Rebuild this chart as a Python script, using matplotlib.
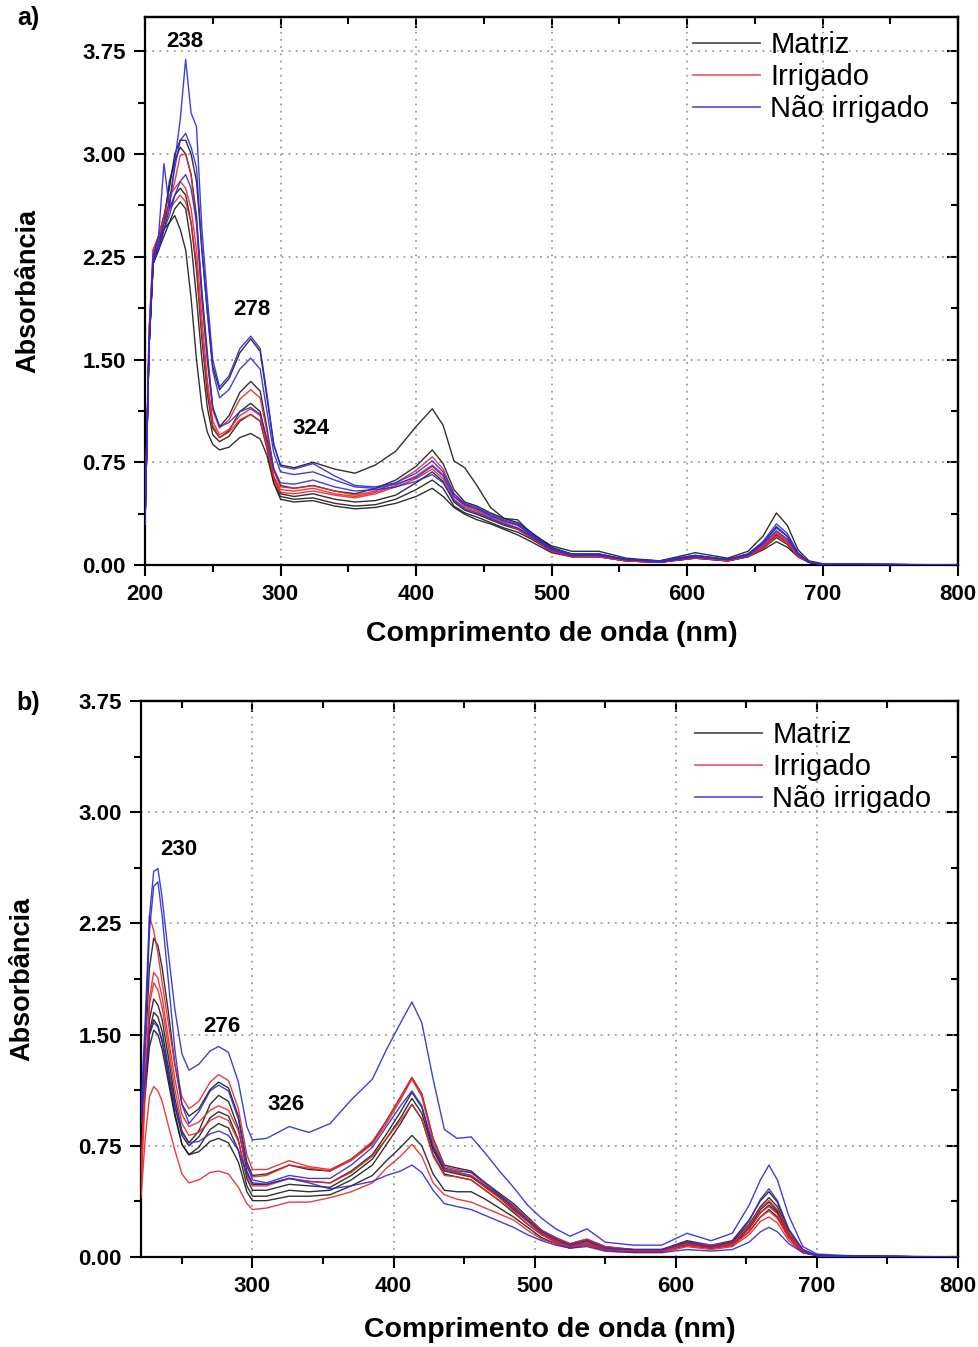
import matplotlib
matplotlib.use("Agg")
import matplotlib.pyplot as plt
from matplotlib.lines import Line2D
from matplotlib.ticker import MultipleLocator

plt.rcParams['font.family'] = ['Liberation Sans', 'DejaVu Sans']

# ---------------- panel a: wavelength grid (nm) and absorbance curves ----------------
wl_a = [200, 203, 206, 210, 214, 218, 222, 226, 230, 234, 238, 242, 246, 250, 255,
        262, 270, 278, 285, 290, 295, 300, 310, 324, 340, 355, 370, 385, 400, 412,
        420, 428, 436, 445, 455, 465, 475, 485, 500, 515, 535, 555, 580, 606, 630,
        645, 656, 666, 674, 682, 690, 700, 750, 800]

matriz_a = [
    [0.3, 1.6, 2.25, 2.4, 2.55, 2.75, 3.0, 3.1, 3.1, 3.0, 2.8, 2.3, 1.85, 1.45, 1.28,
     1.36, 1.55, 1.65, 1.56, 1.22, 0.88, 0.73, 0.71, 0.75, 0.70, 0.67, 0.73, 0.83, 1.01, 1.14,
     1.02, 0.76, 0.71, 0.58, 0.42, 0.34, 0.33, 0.23, 0.14, 0.10, 0.10, 0.05, 0.03, 0.09, 0.05,
     0.10, 0.21, 0.38, 0.29, 0.11, 0.03, 0.01, 0.005, 0.0],
    [0.3, 1.6, 2.2, 2.35, 2.5, 2.8, 2.95, 3.05, 3.0, 2.85, 2.55, 2.0, 1.55, 1.15, 1.01,
     1.09, 1.26, 1.34, 1.27, 1.0, 0.70, 0.58, 0.56, 0.58, 0.54, 0.52, 0.56, 0.62, 0.72, 0.84,
     0.74, 0.55, 0.46, 0.43, 0.38, 0.34, 0.31, 0.24, 0.13, 0.08, 0.08, 0.04, 0.03, 0.07, 0.04,
     0.08, 0.16, 0.28, 0.21, 0.08, 0.02, 0.005, 0.003, 0.0],
    [0.3, 1.6, 2.2, 2.3, 2.45, 2.6, 2.7, 2.75, 2.7, 2.5, 2.15, 1.65, 1.25, 1.0, 0.93,
     0.98, 1.12, 1.18, 1.12, 0.90, 0.64, 0.52, 0.50, 0.52, 0.48, 0.46, 0.47, 0.51, 0.60, 0.68,
     0.61, 0.46, 0.40, 0.37, 0.33, 0.29, 0.26, 0.20, 0.10, 0.07, 0.07, 0.03, 0.02, 0.06, 0.03,
     0.07, 0.13, 0.22, 0.17, 0.07, 0.02, 0.005, 0.003, 0.0],
    [0.3, 1.6, 2.2, 2.3, 2.4, 2.5, 2.6, 2.65, 2.6, 2.35, 1.95, 1.5, 1.15, 0.95, 0.90,
     0.94, 1.05, 1.10, 1.05, 0.85, 0.60, 0.50, 0.48, 0.49, 0.45, 0.43, 0.44, 0.48, 0.55, 0.62,
     0.56, 0.43, 0.38, 0.35, 0.31, 0.27, 0.24, 0.19, 0.10, 0.06, 0.06, 0.03, 0.02, 0.05, 0.03,
     0.06, 0.12, 0.20, 0.15, 0.06, 0.02, 0.005, 0.003, 0.0],
    [0.3, 1.6, 2.2, 2.35, 2.45, 2.5, 2.55, 2.45, 2.3, 1.95, 1.5, 1.15, 0.97, 0.88, 0.84,
     0.86, 0.93, 0.96, 0.92, 0.80, 0.60, 0.48, 0.46, 0.47, 0.43, 0.41, 0.42, 0.45, 0.50, 0.56,
     0.50, 0.42, 0.37, 0.33, 0.30, 0.26, 0.22, 0.17, 0.09, 0.06, 0.06, 0.03, 0.02, 0.05, 0.03,
     0.06, 0.11, 0.17, 0.13, 0.06, 0.02, 0.005, 0.003, 0.0],
]

irrigado_a = [
    [0.3, 1.7, 2.3, 2.4, 2.5, 2.65, 2.8, 2.99, 3.0, 2.85, 2.5, 1.95, 1.5, 1.13, 1.0,
     1.06, 1.21, 1.28, 1.22, 0.97, 0.69, 0.57, 0.56, 0.58, 0.54, 0.51, 0.54, 0.60, 0.69, 0.79,
     0.70, 0.52, 0.44, 0.41, 0.36, 0.32, 0.29, 0.22, 0.11, 0.07, 0.07, 0.04, 0.02, 0.06, 0.04,
     0.07, 0.14, 0.24, 0.18, 0.07, 0.02, 0.005, 0.003, 0.0],
    [0.3, 1.7, 2.3, 2.4, 2.55, 2.7, 2.75, 2.8, 2.75, 2.6, 2.3, 1.8, 1.35, 1.05, 0.95,
     0.99, 1.09, 1.14, 1.09, 0.89, 0.65, 0.55, 0.54, 0.56, 0.52, 0.50, 0.53, 0.58, 0.65, 0.73,
     0.66, 0.50, 0.43, 0.40, 0.35, 0.31, 0.27, 0.21, 0.10, 0.07, 0.06, 0.03, 0.02, 0.06, 0.03,
     0.07, 0.13, 0.23, 0.17, 0.07, 0.02, 0.005, 0.003, 0.0],
    [0.3, 1.7, 2.25, 2.35, 2.5, 2.6, 2.65, 2.7, 2.65, 2.5, 2.2, 1.7, 1.3, 1.02, 0.93,
     0.97, 1.06, 1.10, 1.05, 0.86, 0.63, 0.53, 0.52, 0.54, 0.51, 0.49, 0.52, 0.57, 0.63, 0.70,
     0.63, 0.48, 0.42, 0.39, 0.34, 0.30, 0.26, 0.20, 0.10, 0.06, 0.06, 0.03, 0.02, 0.05, 0.03,
     0.06, 0.12, 0.21, 0.16, 0.06, 0.02, 0.005, 0.003, 0.0],
]

nao_irrigado_a = [
    [0.3, 1.6, 2.25, 2.4, 2.93, 2.6, 2.95, 3.25, 3.69, 3.3, 3.2, 2.45, 1.95, 1.5, 1.30,
     1.38, 1.58, 1.67, 1.58, 1.25, 0.88, 0.72, 0.70, 0.74, 0.65, 0.58, 0.57, 0.60, 0.67, 0.76,
     0.68, 0.52, 0.45, 0.42, 0.37, 0.33, 0.30, 0.23, 0.12, 0.08, 0.08, 0.04, 0.03, 0.07, 0.04,
     0.08, 0.17, 0.30, 0.23, 0.09, 0.02, 0.005, 0.003, 0.0],
    [0.3, 1.6, 2.2, 2.35, 2.5, 2.65, 2.9, 3.1, 3.15, 3.05, 2.9, 2.3, 1.85, 1.42, 1.22,
     1.28, 1.43, 1.51, 1.43, 1.12, 0.82, 0.68, 0.66, 0.68, 0.62, 0.57, 0.56, 0.59, 0.64, 0.72,
     0.65, 0.50, 0.44, 0.41, 0.36, 0.32, 0.29, 0.22, 0.12, 0.08, 0.08, 0.04, 0.03, 0.07, 0.04,
     0.08, 0.16, 0.27, 0.21, 0.08, 0.02, 0.005, 0.003, 0.0],
    [0.3, 1.6, 2.2, 2.3, 2.45, 2.55, 2.7, 2.8, 2.85, 2.75, 2.5, 1.95, 1.5, 1.15, 1.01,
     1.04, 1.12, 1.15, 1.10, 0.92, 0.70, 0.60, 0.59, 0.62, 0.57, 0.54, 0.55, 0.57, 0.61, 0.66,
     0.60, 0.47, 0.41, 0.38, 0.34, 0.30, 0.27, 0.21, 0.11, 0.07, 0.07, 0.04, 0.02, 0.06, 0.04,
     0.07, 0.15, 0.25, 0.19, 0.08, 0.02, 0.005, 0.003, 0.0],
]

# ---------------- panel b ----------------
wl_b = [221, 224, 227, 230, 233, 236, 240, 245, 250, 255, 262, 270, 276, 283, 290,
        296, 300, 310, 326, 340, 355, 370, 385, 395, 405, 413, 420, 428, 436, 445,
        455, 465, 475, 485, 495, 505, 515, 525, 537, 550, 570, 590, 608, 625, 640,
        652, 660, 666, 672, 680, 690, 700, 720, 800]

matriz_b = [
    [0.8, 1.4, 1.95, 2.15, 2.1, 1.95, 1.68, 1.3, 1.03, 0.95, 1.0, 1.13, 1.18, 1.14, 0.95,
     0.64, 0.55, 0.56, 0.62, 0.59, 0.58, 0.66, 0.77, 0.92, 1.08, 1.21, 1.10, 0.80, 0.62, 0.60,
     0.58, 0.50, 0.43, 0.36, 0.27, 0.18, 0.13, 0.09, 0.12, 0.07, 0.05, 0.05, 0.11, 0.08, 0.11,
     0.25, 0.38, 0.44, 0.37, 0.18, 0.05, 0.01, 0.005, 0.0],
    [0.8, 1.2, 1.6, 1.74, 1.7, 1.6, 1.37, 1.07, 0.85, 0.77, 0.85, 1.03, 1.09, 1.05, 0.87,
     0.58, 0.49, 0.49, 0.53, 0.51, 0.50, 0.58, 0.69, 0.83, 0.98, 1.11, 1.01, 0.74, 0.59, 0.57,
     0.55, 0.48, 0.41, 0.33, 0.25, 0.17, 0.12, 0.08, 0.11, 0.06, 0.05, 0.05, 0.10, 0.07, 0.10,
     0.22, 0.34, 0.40, 0.34, 0.16, 0.04, 0.01, 0.005, 0.0],
    [0.75, 1.15, 1.52, 1.65, 1.62, 1.52, 1.3, 1.02, 0.82, 0.75, 0.81, 0.94, 0.98, 0.95, 0.79,
     0.53, 0.45, 0.45, 0.49, 0.48, 0.47, 0.55, 0.66, 0.80, 0.94, 1.07, 0.97, 0.72, 0.58, 0.56,
     0.54, 0.47, 0.40, 0.32, 0.24, 0.16, 0.11, 0.08, 0.10, 0.06, 0.04, 0.04, 0.09, 0.07, 0.09,
     0.20, 0.32, 0.37, 0.31, 0.15, 0.04, 0.01, 0.005, 0.0],
    [0.8, 1.1, 1.42, 1.53, 1.5, 1.4, 1.2, 0.95, 0.76, 0.69, 0.74, 0.86, 0.90, 0.87, 0.72,
     0.48, 0.41, 0.41, 0.45, 0.44, 0.45, 0.52, 0.62, 0.76, 0.90, 1.03, 0.93, 0.69, 0.56, 0.54,
     0.52, 0.45, 0.38, 0.30, 0.22, 0.15, 0.10, 0.07, 0.09, 0.05, 0.04, 0.04, 0.08, 0.06, 0.08,
     0.19, 0.30, 0.35, 0.30, 0.14, 0.04, 0.01, 0.005, 0.0],
    [0.85, 1.15, 1.5, 1.6, 1.56, 1.46, 1.24, 0.97, 0.76, 0.69, 0.71, 0.78, 0.80, 0.77, 0.64,
     0.44, 0.38, 0.38, 0.41, 0.41, 0.42, 0.48, 0.55, 0.65, 0.74, 0.82, 0.75, 0.56, 0.45, 0.44,
     0.44, 0.39, 0.33, 0.27, 0.20, 0.13, 0.09, 0.06, 0.08, 0.05, 0.04, 0.04, 0.08, 0.06, 0.08,
     0.17, 0.27, 0.32, 0.27, 0.13, 0.03, 0.01, 0.005, 0.0],
]

irrigado_b = [
    [0.5, 1.4, 2.3, 2.2, 2.05, 1.85, 1.6, 1.3, 1.08, 1.0, 1.05, 1.18, 1.23, 1.19, 1.0,
     0.69, 0.59, 0.59, 0.65, 0.61, 0.59, 0.66, 0.78, 0.92, 1.08, 1.21, 1.10, 0.80, 0.61, 0.59,
     0.57, 0.49, 0.42, 0.35, 0.26, 0.18, 0.13, 0.09, 0.12, 0.07, 0.05, 0.05, 0.10, 0.08, 0.10,
     0.21, 0.33, 0.38, 0.32, 0.16, 0.04, 0.01, 0.005, 0.0],
    [0.45, 1.1, 1.75, 1.92, 1.88, 1.75, 1.5, 1.2, 0.96, 0.88, 0.91, 0.99, 1.02, 0.99, 0.85,
     0.61, 0.54, 0.55, 0.62, 0.60, 0.58, 0.65, 0.76, 0.90, 1.06, 1.20, 1.08, 0.78, 0.59, 0.57,
     0.55, 0.47, 0.40, 0.33, 0.24, 0.16, 0.11, 0.08, 0.10, 0.06, 0.04, 0.04, 0.09, 0.07, 0.09,
     0.19, 0.30, 0.34, 0.29, 0.14, 0.04, 0.01, 0.005, 0.0],
    [0.6, 1.2, 1.7, 1.85, 1.8, 1.68, 1.44, 1.13, 0.9, 0.82, 0.84, 0.92, 0.95, 0.92, 0.78,
     0.55, 0.48, 0.48, 0.53, 0.51, 0.50, 0.57, 0.68, 0.80, 0.92, 1.03, 0.93, 0.68, 0.55, 0.54,
     0.52, 0.45, 0.38, 0.31, 0.22, 0.15, 0.10, 0.07, 0.09, 0.05, 0.04, 0.04, 0.08, 0.06, 0.08,
     0.17, 0.27, 0.31, 0.26, 0.13, 0.04, 0.01, 0.005, 0.0],
    [0.4, 0.8, 1.08, 1.15, 1.12, 1.05, 0.9, 0.72, 0.56, 0.5, 0.52, 0.57, 0.58, 0.56, 0.47,
     0.36, 0.32, 0.33, 0.37, 0.37, 0.40, 0.44, 0.50, 0.60, 0.68, 0.76, 0.68, 0.50, 0.42, 0.39,
     0.37, 0.33, 0.29, 0.25, 0.18, 0.12, 0.09, 0.06, 0.08, 0.04, 0.03, 0.03, 0.07, 0.05, 0.07,
     0.15, 0.24, 0.27, 0.23, 0.11, 0.03, 0.01, 0.005, 0.0],
]

nao_irrigado_b = [
    [1.0, 1.6, 2.3, 2.6, 2.62, 2.42, 2.08, 1.67, 1.37, 1.26, 1.30, 1.39, 1.42, 1.38, 1.18,
     0.88, 0.79, 0.80, 0.88, 0.84, 0.90, 1.06, 1.20, 1.40, 1.58, 1.72, 1.58, 1.20, 0.86, 0.80,
     0.81, 0.70, 0.58, 0.47, 0.35, 0.26, 0.19, 0.14, 0.19, 0.10, 0.08, 0.08, 0.16, 0.11, 0.16,
     0.35, 0.52, 0.62, 0.52, 0.28, 0.07, 0.02, 0.01, 0.0],
    [0.9, 1.5, 2.2, 2.5, 2.53, 2.3, 1.9, 1.4, 1.03, 0.9, 0.98, 1.12, 1.16, 1.12, 0.93,
     0.62, 0.52, 0.50, 0.55, 0.53, 0.53, 0.62, 0.74, 0.88, 1.02, 1.12, 1.02, 0.75, 0.60, 0.58,
     0.57, 0.50, 0.42, 0.34, 0.25, 0.17, 0.12, 0.08, 0.11, 0.06, 0.05, 0.05, 0.10, 0.07, 0.10,
     0.24, 0.39, 0.46, 0.38, 0.19, 0.05, 0.01, 0.005, 0.0],
    [0.95, 1.2, 1.5, 1.58, 1.55, 1.45, 1.27, 1.02, 0.84, 0.77, 0.78, 0.83, 0.85, 0.82, 0.72,
     0.56, 0.50, 0.49, 0.53, 0.50, 0.46, 0.48, 0.51, 0.55, 0.58, 0.62, 0.57, 0.45, 0.36, 0.34,
     0.32, 0.28, 0.24, 0.20, 0.15, 0.11, 0.08, 0.06, 0.07, 0.04, 0.03, 0.03, 0.05, 0.04, 0.05,
     0.10, 0.17, 0.20, 0.17, 0.09, 0.03, 0.01, 0.005, 0.0],
]

labels = ['Matriz', 'Irrigado', 'Não irrigado']
colors = ['#1a1a1a', '#e8262a', '#2a2ad8']
legend_colors = ['#555555', '#e8606a', '#5a5ad8']


def style_axes(ax, xlim, ylim, xticks, ylab_x, xlab_y):
    ax.set_xlim(*xlim)
    ax.set_ylim(*ylim)
    ax.set_xticks(xticks)
    ax.set_yticks([0.0, 0.75, 1.50, 2.25, 3.00, 3.75])
    ax.yaxis.set_major_formatter(plt.FormatStrFormatter('%.2f'))
    ax.xaxis.set_minor_locator(MultipleLocator(50))
    ax.yaxis.set_minor_locator(MultipleLocator(0.375))
    ax.grid(True, which='major', color='#8c8c8c', linestyle=(0, (1.2, 3.5)), linewidth=1.1)
    for s in ax.spines.values():
        s.set_linewidth(1.6)
    ax.tick_params(which='both', direction='out', width=1.5, labelsize=16,
                   top=False, right=False)
    ax.tick_params(which='major', length=8, pad=6)
    ax.tick_params(which='minor', length=5)
    for lab in ax.get_xticklabels() + ax.get_yticklabels():
        lab.set_fontweight('bold')
    # inward ticks on top and right edges
    sec_x = ax.secondary_xaxis('top')
    sec_x.set_xticks(xticks)
    sec_x.xaxis.set_minor_locator(MultipleLocator(50))
    sec_x.tick_params(which='both', direction='in', width=1.5, labeltop=False)
    sec_x.tick_params(which='major', length=8)
    sec_x.tick_params(which='minor', length=5)
    sec_x.spines['top'].set_linewidth(1.6)
    sec_y = ax.secondary_yaxis('right')
    sec_y.set_yticks([0.0, 0.75, 1.50, 2.25, 3.00, 3.75])
    sec_y.yaxis.set_minor_locator(MultipleLocator(0.375))
    sec_y.tick_params(which='both', direction='in', width=1.5, labelright=False)
    sec_y.tick_params(which='major', length=8)
    sec_y.tick_params(which='minor', length=5)
    sec_y.spines['right'].set_linewidth(1.6)
    ax.set_xlabel('Comprimento de onda (nm)', fontsize=20.5, fontweight='bold')
    ax.set_ylabel('Absorbância', fontsize=19.5, fontweight='bold')
    ax.xaxis.set_label_coords(0.5, xlab_y)
    ax.xaxis.label.set_va('center')
    ax.yaxis.set_label_coords(ylab_x, 0.5)
    ax.yaxis.label.set_va('center')


def draw_panel(ax, wl, groups):
    for grp, col, z in zip(groups, colors, [2, 3, 4]):
        for curve in grp:
            ax.plot(wl, curve, color=col, linewidth=1.0, alpha=0.9, zorder=z)


def add_legend(ax, anchor):
    handles = [Line2D([0], [0], color=c, linewidth=1.3) for c in legend_colors]
    ax.legend(handles, labels, loc='upper left', bbox_to_anchor=anchor,
              bbox_transform=ax.figure.transFigure, frameon=False, fontsize=21,
              handlelength=2.3, handletextpad=0.35, labelspacing=0.14,
              borderpad=0, borderaxespad=0)


fig = plt.figure(figsize=(9.79, 13.47), dpi=100)

ax_a = fig.add_axes([145 / 979, 1 - 565 / 1347, (958 - 145) / 979, (565 - 17) / 1347])
draw_panel(ax_a, wl_a, [matriz_a, irrigado_a, nao_irrigado_a])
style_axes(ax_a, (200, 800), (0, 4.0), [200, 300, 400, 500, 600, 700, 800],
           (28 - 145) / 813, (565 - 634) / 548)
add_legend(ax_a, (693 / 979, 1 - 31 / 1347))
for txt, x, y in [('238', 229.5, 3.82), ('278', 279, 1.865), ('324', 322.5, 1.0)]:
    ax_a.text(x, y, txt, fontsize=16, fontweight='bold', ha='center', va='center', zorder=6)

ax_b = fig.add_axes([141 / 979, 1 - 1257 / 1347, (958 - 141) / 979, (1257 - 701) / 1347])
draw_panel(ax_b, wl_b, [matriz_b, irrigado_b, nao_irrigado_b])
style_axes(ax_b, (221, 800), (0, 3.75), [300, 400, 500, 600, 700, 800],
           (22 - 141) / 817, (1257 - 1330) / 556)
add_legend(ax_b, (695 / 979, 1 - 721 / 1347))
for txt, x, y in [('230', 248, 2.75), ('276', 278, 1.554), ('326', 324, 1.027)]:
    ax_b.text(x, y, txt, fontsize=16, fontweight='bold', ha='center', va='center', zorder=6)

fig.text(28 / 979, 1 - 18 / 1347, 'a)', fontsize=18, fontweight='bold', ha='center', va='center')
fig.text(28 / 979, 1 - 703 / 1347, 'b)', fontsize=18, fontweight='bold', ha='center', va='center')

fig.savefig('out.png', dpi=100)
